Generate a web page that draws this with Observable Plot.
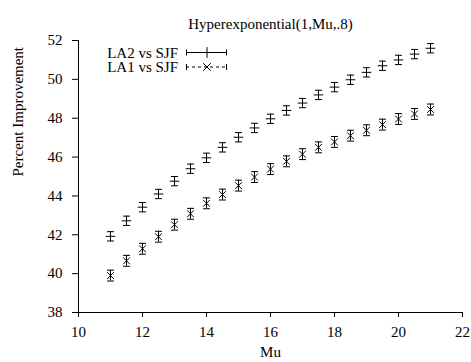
<!DOCTYPE html>
<html>
<head>
<meta charset="utf-8">
<script src="https://cdn.jsdelivr.net/npm/d3@7"></script>
<script src="https://cdn.jsdelivr.net/npm/@observablehq/plot@0.6"></script>
<style>
  html, body { margin: 0; padding: 0; background: #fff; }
  #chart svg { display: block; }
  #chart svg, #chart svg text { font-family: "Liberation Serif", "Times New Roman", serif !important; }
</style>
</head>
<body>
<div id="chart"></div>
<script>
const title = "Hyperexponential(1,Mu,.8)";
const xLabel = "Mu";
const yLabel = "Percent Improvement";
const seriesNames = ["LA2 vs SJF", "LA1 vs SJF"];
const xTicks = [10, 12, 14, 16, 18, 20, 22];
const yTicks = [38, 40, 42, 44, 46, 48, 50, 52];

const mu = [11, 11.5, 12, 12.5, 13, 13.5, 14, 14.5, 15, 15.5, 16, 16.5, 17, 17.5, 18, 18.5, 19, 19.5, 20, 20.5, 21];
const la2 = [41.92, 42.72, 43.42, 44.1, 44.76, 45.4, 45.96, 46.5, 47.02, 47.5, 47.97, 48.4, 48.78, 49.2, 49.6, 49.98, 50.36, 50.7, 51.0, 51.3, 51.6];
const la2Err = [0.24, 0.24, 0.24, 0.24, 0.24, 0.24, 0.24, 0.24, 0.24, 0.24, 0.24, 0.24, 0.24, 0.24, 0.24, 0.24, 0.24, 0.24, 0.24, 0.24, 0.24];
const la1 = [39.9, 40.66, 41.28, 41.9, 42.52, 43.08, 43.62, 44.07, 44.53, 44.97, 45.38, 45.78, 46.15, 46.5, 46.78, 47.1, 47.38, 47.67, 47.96, 48.22, 48.45];
const la1Err = [0.28, 0.28, 0.28, 0.28, 0.28, 0.28, 0.28, 0.28, 0.28, 0.28, 0.28, 0.28, 0.28, 0.28, 0.28, 0.28, 0.28, 0.28, 0.28, 0.28, 0.28];

const d2 = mu.map((m, i) => ({x: m, y: la2[i], lo: la2[i] - la2Err[i], hi: la2[i] + la2Err[i]}));
const d1 = mu.map((m, i) => ({x: m, y: la1[i], lo: la1[i] - la1Err[i], hi: la1[i] + la1Err[i]}));

const hbar = { draw(ctx, size) { const r = 3.5; ctx.moveTo(-r, 0); ctx.lineTo(r, 0); } };

const font = "'Liberation Serif', 'Times New Roman', serif";
const fs = 15;

function errMarks(data, sym) {
  return [
    Plot.ruleX(data, {x: "x", y1: "lo", y2: "hi", stroke: "black", strokeWidth: 1}),
    Plot.dot(data, {x: "x", y: "lo", symbol: hbar, r: 3, stroke: "black", strokeWidth: 1}),
    Plot.dot(data, {x: "x", y: "hi", symbol: hbar, r: 3, stroke: "black", strokeWidth: 1}),
    Plot.dot(data, {x: "x", y: "y", symbol: sym, r: 3.2, stroke: "black", strokeWidth: 1})
  ];
}

const chart = Plot.plot({
  width: 471,
  height: 362,
  marginLeft: 78,
  marginRight: 9,
  marginTop: 40,
  marginBottom: 50,
  style: {fontFamily: font, fontSize: fs + "px", color: "black", background: "white"},
  x: {domain: [10, 22]},
  y: {domain: [38, 52]},
  marks: [
    Plot.axisX({ticks: xTicks, tickSize: 5, tickPadding: 9, tickFormat: d => String(d), label: null, fontSize: fs}),
    Plot.axisY({ticks: yTicks, tickSize: 6, tickPadding: 10, tickFormat: d => String(d), label: null, fontSize: fs}),
    Plot.ruleY([38], {stroke: "black"}),
    Plot.ruleX([10], {stroke: "black"}),
    ...errMarks(d2, "plus"),
    ...errMarks(d1, "times"),
    Plot.text([title], {frameAnchor: "top", text: d => d, dy: -22, fontSize: fs}),
    Plot.text([xLabel], {frameAnchor: "bottom", text: d => d, dy: 44, fontSize: fs}),
    Plot.text([yLabel], {frameAnchor: "left", text: d => d, dx: -60, rotate: -90, fontSize: fs})
  ]
});

// Legend (drawn into the same SVG)
const svg = d3.select(chart);
const leg = svg.append("g").attr("font-family", font).attr("font-size", fs).attr("fill", "black");
const rows = [
  {name: seriesNames[0], y: 52.5, dash: null, sym: "plus"},
  {name: seriesNames[1], y: 67, dash: "3,3", sym: "times"}
];
rows.forEach(r => {
  leg.append("text").attr("x", 178).attr("y", r.y).attr("dy", "0.35em").attr("text-anchor", "end").text(r.name);
  const g = leg.append("g").attr("stroke", "black").attr("fill", "none").attr("stroke-width", 1);
  g.append("line").attr("x1", 186).attr("x2", 227).attr("y1", r.y).attr("y2", r.y).attr("stroke-dasharray", r.dash);
  g.append("line").attr("x1", 186.5).attr("x2", 186.5).attr("y1", r.y - 3).attr("y2", r.y + 3);
  g.append("line").attr("x1", 226.5).attr("x2", 226.5).attr("y1", r.y - 3).attr("y2", r.y + 3);
  const s = d3.symbol(r.sym === "plus" ? d3.symbolPlus : d3.symbolTimes, 40)();
  g.append("path").attr("d", s).attr("transform", `translate(207,${r.y})`);
});

document.getElementById("chart").appendChild(chart);
</script>
</body>
</html>
